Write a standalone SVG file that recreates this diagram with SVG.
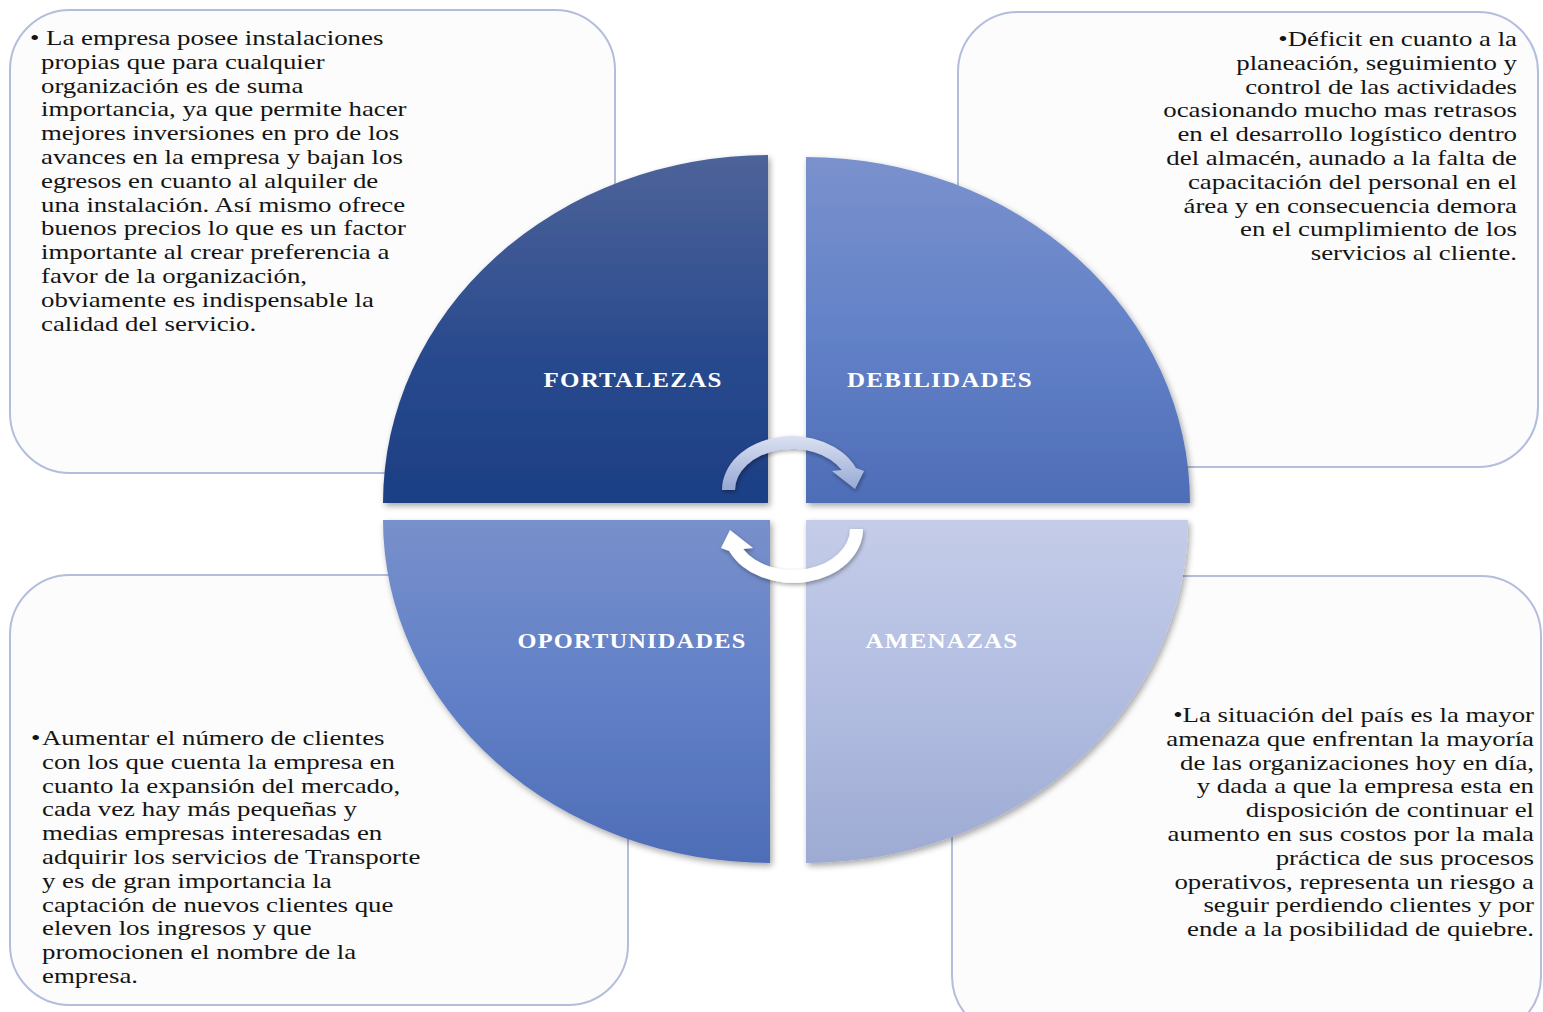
<svg xmlns="http://www.w3.org/2000/svg" width="1543" height="1012" viewBox="0 0 1543 1012">
<style>
.box{fill:#fcfcfc;stroke:#b3bedd;stroke-width:2}
.body{font-family:"Liberation Serif","Times New Roman",serif;font-size:22px;fill:#141414}
.lbl{font-family:"Liberation Serif","Times New Roman",serif;font-size:20px;font-weight:bold;letter-spacing:1px;fill:#ffffff;text-anchor:middle}
.end{text-anchor:end}
</style>
<defs>
<linearGradient id="gF" x1="0" y1="0" x2="0" y2="1"><stop offset="0" stop-color="#4e6399"/><stop offset="0.6" stop-color="#27498d"/><stop offset="1" stop-color="#1d3f84"/></linearGradient>
<linearGradient id="gD" x1="0" y1="0" x2="0" y2="1"><stop offset="0" stop-color="#7a91cd"/><stop offset="0.5" stop-color="#6382c8"/><stop offset="1" stop-color="#4e6db7"/></linearGradient>
<linearGradient id="gO" x1="0" y1="0" x2="0" y2="1"><stop offset="0" stop-color="#7890cb"/><stop offset="0.5" stop-color="#6180c7"/><stop offset="1" stop-color="#4e6db7"/></linearGradient>
<linearGradient id="gA" x1="0" y1="0" x2="0" y2="1"><stop offset="0" stop-color="#c4cce8"/><stop offset="0.5" stop-color="#b2bde1"/><stop offset="1" stop-color="#9daad2"/></linearGradient>
<linearGradient id="gArr" x1="0" y1="0" x2="0" y2="1"><stop offset="0" stop-color="#dbe1f1"/><stop offset="1" stop-color="#95a7d3"/></linearGradient>
<filter id="sh" x="-10%" y="-10%" width="120%" height="120%"><feDropShadow dx="2" dy="3" stdDeviation="3" flood-color="#000" flood-opacity="0.35"/></filter>
<filter id="sh2" x="-20%" y="-20%" width="140%" height="140%"><feDropShadow dx="1" dy="2" stdDeviation="2" flood-color="#000" flood-opacity="0.35"/></filter>
</defs>
<rect width="1543" height="1012" fill="#ffffff"/>

<g id="box-fortalezas">
<rect class="box" x="10" y="10" width="605" height="463" rx="60"/>
<g transform="translate(30,0) scale(1.22,1)" class="body">
<text x="0" y="45">• La empresa posee instalaciones</text>
</g>
<g transform="translate(41,0) scale(1.22,1)" class="body">
<text x="0" y="68.8">propias  que para cualquier</text>
<text x="0" y="92.6">organización es de suma</text>
<text x="0" y="116.4">importancia, ya que permite hacer</text>
<text x="0" y="140.2">mejores inversiones en pro de los</text>
<text x="0" y="164">avances en la empresa y bajan los</text>
<text x="0" y="187.8">egresos en cuanto al alquiler de</text>
<text x="0" y="211.6">una instalación. Así mismo ofrece</text>
<text x="0" y="235.4">buenos precios lo que es un factor</text>
<text x="0" y="259.2">importante al crear preferencia a</text>
<text x="0" y="283">favor de la organización,</text>
<text x="0" y="306.8">obviamente es indispensable la</text>
<text x="0" y="330.6">calidad del servicio.</text>
</g>
</g>

<g id="box-debilidades">
<rect class="box" x="958" y="12" width="580" height="455" rx="60"/>
<g transform="translate(1517,0) scale(1.22,1)" class="body">
<text x="0" y="46" class="end">•Déficit en cuanto a la</text>
<text x="0" y="69.8" class="end">planeación, seguimiento y</text>
<text x="0" y="93.6" class="end">control de las actividades</text>
<text x="0" y="117.4" class="end">ocasionando mucho mas retrasos</text>
<text x="0" y="141.2" class="end">en el desarrollo logístico dentro</text>
<text x="0" y="165" class="end">del almacén, aunado a la falta de</text>
<text x="0" y="188.8" class="end">capacitación del personal en el</text>
<text x="0" y="212.6" class="end">área y en consecuencia demora</text>
<text x="0" y="236.4" class="end">en el cumplimiento de los</text>
<text x="0" y="260.2" class="end">servicios al cliente.</text>
</g>
</g>

<g id="box-oportunidades">
<rect class="box" x="10" y="575" width="618" height="430" rx="60"/>
<g transform="translate(31,0) scale(1.22,1)" class="body">
<text x="0" y="745">•</text>
</g>
<g transform="translate(42,0) scale(1.22,1)" class="body">
<text x="0" y="745">Aumentar el número de clientes</text>
<text x="0" y="768.8">con los que cuenta la empresa en</text>
<text x="0" y="792.6">cuanto la expansión del mercado,</text>
<text x="0" y="816.4">cada vez hay más pequeñas y</text>
<text x="0" y="840.2">medias empresas interesadas en</text>
<text x="0" y="864">adquirir los servicios de Transporte</text>
<text x="0" y="887.8">y es de gran importancia la</text>
<text x="0" y="911.6">captación de nuevos clientes que</text>
<text x="0" y="935.4">eleven los ingresos y que</text>
<text x="0" y="959.2">promocionen el nombre de la</text>
<text x="0" y="983">empresa.</text>
</g>
</g>

<g id="box-amenazas">
<rect class="box" x="952" y="576" width="589" height="460" rx="60"/>
<g transform="translate(1534,0) scale(1.22,1)" class="body">
<text x="0" y="722" class="end">•La situación del país es la mayor</text>
<text x="0" y="745.8" class="end">amenaza que enfrentan la mayoría</text>
<text x="0" y="769.6" class="end">de las organizaciones hoy en día,</text>
<text x="0" y="793.4" class="end">y dada a que la empresa esta en</text>
<text x="0" y="817.2" class="end">disposición de continuar el</text>
<text x="0" y="841" class="end">aumento en sus costos por la mala</text>
<text x="0" y="864.8" class="end">práctica de sus procesos</text>
<text x="0" y="888.6" class="end">operativos, representa un riesgo a</text>
<text x="0" y="912.4" class="end">seguir perdiendo clientes y por</text>
<text x="0" y="936.2" class="end">ende a la posibilidad de quiebre.</text>
</g>
</g>

<g id="node-fortalezas">
<path d="M768 503 L383 503 A385 348 0 0 1 768 155 Z" fill="url(#gF)" filter="url(#sh)"/>
<g transform="translate(633,0) scale(1.25,1)"><text class="lbl" x="0" y="387">FORTALEZAS</text></g>
</g>
<g id="node-debilidades">
<path d="M806 503 L806 157 A384 346 0 0 1 1190 503 Z" fill="url(#gD)" filter="url(#sh)"/>
<g transform="translate(940,0) scale(1.25,1)"><text class="lbl" x="0" y="387">DEBILIDADES</text></g>
</g>
<g id="node-oportunidades">
<path d="M770 520 L770 863 A387 343 0 0 1 383 520 Z" fill="url(#gO)" filter="url(#sh)"/>
<g transform="translate(632,0) scale(1.22,1)"><text class="lbl" x="0" y="648">OPORTUNIDADES</text></g>
</g>
<g id="node-amenazas">
<path d="M806 520 L1188 520 A382 343 0 0 1 806 863 Z" fill="url(#gA)" filter="url(#sh)"/>
<g transform="translate(942,0) scale(1.25,1)"><text class="lbl" x="0" y="648">AMENAZAS</text></g>
</g>

<g id="connectors">
<path d="M722 490 A70 54 0 0 1 855.9 468 L864 471 L855 489 L832 471 L841.8 470 A57 41 0 0 0 735 490 Z" fill="url(#gArr)" filter="url(#sh2)"/>
<path d="M863 529 A70 54 0 0 1 729.1 551 L721 548 L730 530 L753 548 L743.2 549 A57 41 0 0 0 850 529 Z" fill="#ffffff" filter="url(#sh2)"/>
</g>
</svg>
